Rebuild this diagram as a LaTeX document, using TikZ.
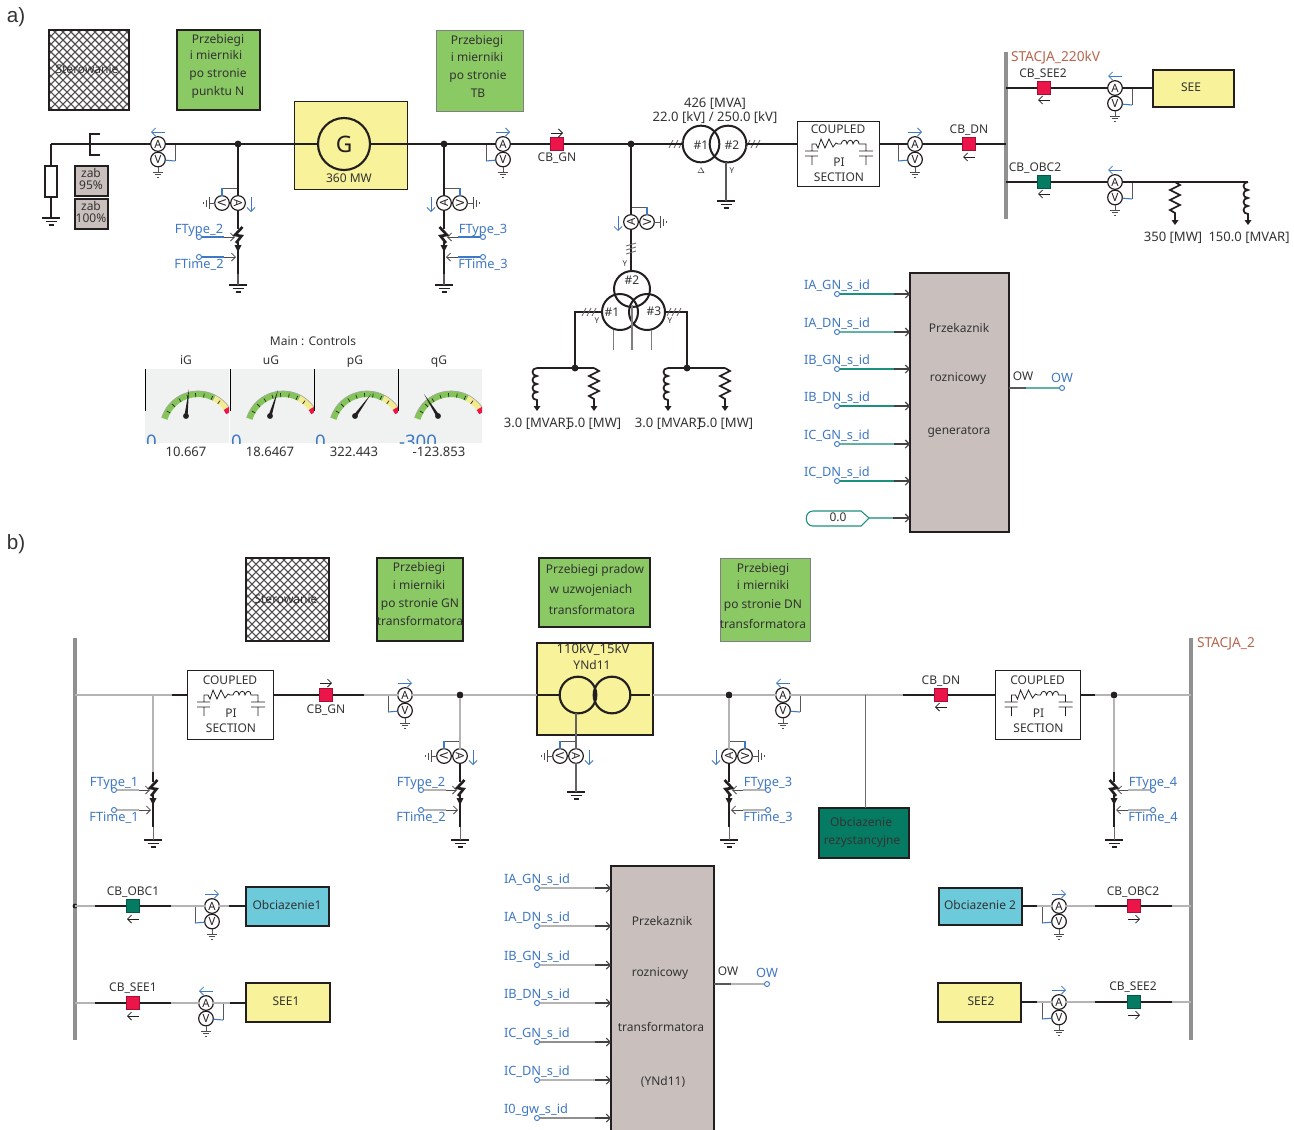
\documentclass[tikz,border=0pt]{standalone}
\usepackage{fontspec}
\setmainfont{Noto Sans}
\setsansfont{Liberation Sans}
\usetikzlibrary{arrows.meta,calc}
\definecolor{ink}{HTML}{231F20}
\definecolor{txtc}{HTML}{333333}
\definecolor{wgray}{HTML}{B4B4B4}
\definecolor{cbred}{HTML}{EC1549}
\definecolor{cbgrn}{HTML}{067B63}
\definecolor{yel}{HTML}{F8F29B}
\definecolor{grnbox}{HTML}{8AC963}
\definecolor{relayc}{HTML}{C9C0BD}
\definecolor{cyanb}{HTML}{6CCADB}
\definecolor{blu}{HTML}{3F78C4}
\definecolor{brownt}{HTML}{B8664F}
\definecolor{tealc}{HTML}{1E9080}
\definecolor{panelc}{HTML}{F0F2F2}
\definecolor{gaugeg}{HTML}{84C558}
\definecolor{gaugey}{HTML}{F3EC8E}
\newcounter{lbl}
\tikzset{
  txt/.style={font=\fontsize{9}{10}\selectfont,text=txtc,inner sep=0pt,outer sep=0pt,text height=6.75pt,text depth=2.25pt,yshift=-.7pt},
  wtxt/.style={font=\fontsize{9.8}{10}\selectfont},
  btxt/.style={text=blu,font=\fontsize{9.6}{10}\selectfont},
  stxt/.style={text=brownt,anchor=west,font=\fontsize{10.3}{11}\selectfont},
  wire/.style={draw=ink,line width=1.5pt},
  gw/.style={draw=wgray,line width=1pt},
  thinw/.style={draw=ink!75,line width=.7pt},
  mtr/.style={circle,draw=ink,line width=.9pt,fill=white,minimum size=11pt,inner sep=0pt,outer sep=0pt,font=\fontsize{8.5}{9}\selectfont,text=ink},
  dot/.style={circle,fill=ink,minimum size=5.2pt,inner sep=0pt,outer sep=0pt},
  sig/.style={circle,draw=blu,line width=.7pt,fill=white,minimum size=3.8pt,inner sep=0pt,outer sep=0pt},
  barb/.style={-{Straight Barb[length=3pt,width=6pt]}},
  bbox/.style={draw=ink,line width=1.5pt,inner sep=0pt,outer sep=0pt},
  tbox/.style={draw=ink,line width=.7pt,inner sep=0pt,outer sep=0pt},
  wind/.style={circle,draw=ink,line width=1.5pt,inner sep=0pt,outer sep=0pt},
}
% text label
\newcommand\T[4][]{\stepcounter{lbl}\node[txt,#1] (t\arabic{lbl}) at (#2,#3) {#4};}
% box by corners: name, x1,y1,x2,y2, style
\newcommand\Bx[6]{\node[#6,minimum width={(#4-#2)*0.75pt},minimum height={(#5-#3)*0.75pt}] (#1) at ({(#2+#4)/2},{(#3+#5)/2}) {};}
\newcommand\GndB[3]{\coordinate (#1) at (#2,#3);
  \draw[ink,line width=.8pt] (#2-9,#3)--(#2+9,#3) (#2-5.5,#3+3.5)--(#2+5.5,#3+3.5) (#2-2.5,#3+7)--(#2+2.5,#3+7);}
\newcommand\GndS[3]{\coordinate (#1) at (#2,#3);
  \draw[ink!80,line width=.6pt] (#2-5,#3)--(#2+5,#3) (#2-3,#3+2.8)--(#2+3,#3+2.8) (#2-.7,#3+5.6)--(#2+.7,#3+5.6);}
% vertical meter pair: id,x,y,tap side,blue arrow dir
\newcommand\AVs[5]{
  \node[mtr] (#1A) at (#2,#3) {A};
  \node[mtr] (#1V) at (#2,#3+15.5) {V};
  \coordinate (#1t) at (#2+#4*17,#3);
  \coordinate (#1c) at (#2+#4*17,#3+17);
  \draw[thinw] (#1t) -- (#1c);
  \draw[blu,line width=.8pt] (#1c) -- (#1V);
  \GndS{#1g}{#2}{#3+28}
  \draw[thinw] (#1V) -- (#1g);
  \draw[blu,line width=.6pt,barb] (#2-#5*7,#3-12) -- (#2+#5*7,#3-12);
}
% horizontal meter pair: id,x,y,side of V
\newcommand\AVh[4]{
  \node[mtr,rotate=#4*90] (#1A) at (#2,#3) {A};
  \node[mtr,rotate=#4*90] (#1V) at (#2+#4*16,#3) {V};
  \coordinate (#1t) at (#2,#3-15);
  \coordinate (#1c) at (#2+#4*16,#3-15);
  \draw[thinw] (#1t) -- (#1c);
  \draw[blu,line width=.8pt] (#1c) -- (#1V);
  \coordinate (#1g) at (#2+#4*29,#3);
  \draw[thinw] (#1V) -- (#1g);
  \draw[ink!80,line width=.6pt] (#2+#4*29,#3-6)--(#2+#4*29,#3+6) (#2+#4*32,#3-3.5)--(#2+#4*32,#3+3.5) (#2+#4*35,#3-.8)--(#2+#4*35,#3+.8);
  \draw[blu,line width=.6pt,barb] (#2-#4*13,#3-6) -- (#2-#4*13,#3+9);
}
% fault: id,x,y0,side,input colour,label1,label2
\newcommand\Fault[7]{
  \coordinate (#1top) at (#2,#3-18);
  \coordinate (#1bot) at (#2,#3+37);
  \draw[ink,line width=1.6pt] (#1top) -- (#2,#3-8) (#2,#3+5) -- (#1bot);
  \draw[ink,line width=2pt] (#2-#4*4.5,#3-10)--(#2+#4*3,#3-2)--(#2-#4*3.5,#3-1)--(#2+#4*2,#3+6);
  \fill[ink] (#2-3.5,#3+8)--(#2+3.5,#3+8)--(#2,#3+15)--cycle;
  \node[sig] (#1a) at (#2+#4*39,#3) {};
  \node[sig] (#1b) at (#2+#4*39,#3+20) {};
  \coordinate (#1ae) at (#2+#4*3,#3);
  \coordinate (#1be) at (#2+#4*2,#3+20);
  \draw[#5,line width=1pt] (#1a) -- (#2+#4*14,#3);
  \draw[#5,line width=1pt] (#1b) -- (#2+#4*14,#3+20);
  \draw[ink!80,line width=.6pt,barb] (#2+#4*14,#3) -- (#1ae);
  \draw[ink!80,line width=.6pt,barb] (#2+#4*14,#3+20) -- (#1be);
  \T[btxt]{#2+#4*39}{#3-7}{#6}
  \T[btxt]{#2+#4*39}{#3+28}{#7}
}
% breaker: id,x,y,colour,dir,arrow y offset
\newcommand\CB[6]{
  \node[rectangle,fill=#4,draw=#4!70!black,line width=.7pt,minimum size=10pt,inner sep=0pt,outer sep=0pt] (#1) at (#2,#3) {};
  \draw[ink,line width=.55pt,barb] (#2-#5*6,#3+#6) -- (#2+#5*6,#3+#6);
}
\newcommand\Hash[2]{\draw[ink!70,line width=.6pt] (#1-7,#2+4)--(#1-3,#2-4) (#1-2,#2+4)--(#1+2,#2-4) (#1+3,#2+4)--(#1+7,#2-4);}
\newcommand\HashV[2]{\draw[ink!70,line width=.6pt] (#1-5,#2-5)--(#1+5,#2-8) (#1-5,#2-1)--(#1+5,#2-4) (#1-5,#2+3)--(#1+5,#2);}
% coupled pi section: name,x1,y1,x2,y2
\newcommand\Coupled[5]{
  \Bx{#1}{#2}{#3}{#4}{#5}{tbox,fill=white}
  \begin{scope}[shift={({(#2+#4)/2},{(#3+#5)/2-9.5})}]
    \T{0}{-14.5}{COUPLED}\T{1}{19}{PI}\T{1}{34}{SECTION}
    \draw[ink,line width=.6pt] (-33,7)--(-20,7) (-33,12)--(-20,12) (-26,12)--(-26,21) (-26,7)--(-26,0)--(-22,0)
      --(-20,4)--(-17,-5)--(-13,4)--(-9,-5)--(-5,3)--(-2,-1)--(0,0)--(3,0)
      .. controls (4,-5) and (9,-5) .. (9,0) .. controls (10,-5) and (15,-5) .. (15,0) .. controls (16,-5) and (21,-5) .. (21,0)
      --(28,0)--(28,7) (21,7)--(35,7) (21,12)--(35,12) (28,12)--(28,21);
  \end{scope}
}
% vertical inductor and resistor loads: name,x,y
\newcommand\Ind[3]{\coordinate (#1) at (#2,#3);
  \begin{scope}[shift={(#2,#3)}]
  \draw[ink,line width=1.3pt] (0,0) .. controls (-6,0) and (-6,8) .. (0,8) .. controls (-6,8) and (-6,16) .. (0,16) .. controls (-6,16) and (-6,24) .. (0,24) .. controls (-6,24) and (-6,32) .. (0,32) -- (0,38);
  \fill[ink] (-3.5,38)--(3.5,38)--(0,43)--cycle;
  \end{scope}}
\newcommand\Res[3]{\coordinate (#1) at (#2,#3);
  \begin{scope}[shift={(#2,#3)}]
  \draw[ink,line width=1.3pt] (0,0)--(5,3)--(-5,8)--(5,13)--(-5,18)--(5,23)--(-5,28)--(0,31)--(0,38);
  \fill[ink] (-3.5,38)--(3.5,38)--(0,43)--cycle;
  \end{scope}}
% hatched box: name,x1,y1,x2,y2
\newcommand\Hatch[5]{
  \begin{scope}
    \clip (#2,#3) rectangle (#4,#5);
    \foreach \k in {0,...,24} {
      \draw[ink!80,line width=.8pt] (#2-100+\k*8,#3) -- ++(100,100);
      \draw[ink!80,line width=.8pt] (#2+\k*8,#3) -- ++(-100,100);
    }
  \end{scope}
  \Bx{#1}{#2}{#3}{#4}{#5}{bbox}
}
% relay input: id,x,y,colour,relay,label
\newcommand\Rin[6]{
  \node[sig] (#1) at (#2,#3) {};
  \draw[#4,line width=1pt] (#1) -- ($(#1 -| #5.west)+(-16,0)$);
  \draw[ink!85,line width=.8pt,barb] ($(#1 -| #5.west)+(-16,0)$) -- (#1 -| #5.west);
  \T[btxt,anchor=west]{#2-33}{#3-8.5}{#6}
}
% gauge: panel x, pivot x, tip x, tip y, lower label
\newcommand\Gauge[5]{
  \begin{scope}
    \clip (#1,369) rectangle (#1+84,443);
    \fill[panelc] (#1,369) rectangle (#1+84,443);
    \begin{scope}[shift={(#1+53,429)},yscale=-1]
      \draw[gaugeg,line width=4.6pt] (163:35) arc[start angle=163,end angle=62,radius=35];
      \draw[gaugey,line width=4.6pt] (62:35) arc[start angle=62,end angle=36,radius=35];
      \draw[cbred,line width=4.6pt] (36:35) arc[start angle=36,end angle=28,radius=35];
      \draw[black!35,line width=.5pt] (163:38) arc[start angle=163,end angle=28,radius=38];
      \foreach \a in {150,136,122,108,94,80,66,52} \draw[ink,line width=.5pt] (\a:32) -- (\a:36);
    \end{scope}
    \T[text=blu,anchor=south west,font=\fontsize{14}{14}\selectfont]{#1+1}{451}{#5}
  \end{scope}
  \coordinate (pv#1) at (#2,416);
  \coordinate (tp#1) at (#3,#4);
  \fill[ink] ($(pv#1)!1.2pt!90:(tp#1)$) -- (tp#1) -- ($(pv#1)!1.2pt!-90:(tp#1)$) -- cycle;
  \fill[ink] (pv#1) circle (2.2pt);
  \draw[black,line width=.7pt] (#1,369) -- (#1,411);
}
\begin{document}
\begin{tikzpicture}[x=0.75pt,y=-0.75pt]
\useasboundingbox (0,0) rectangle (1294,1129);
\fill[white] (0,0) rectangle (1294,1129);
% ---- panel labels
\T[font=\fontsize{15.5}{15}\selectfont\sffamily]{16}{19}{a)}
\T[font=\fontsize{15.5}{15}\selectfont\sffamily]{16}{546}{b)}
%% ================= a)
\Hatch{aH}{49}{30}{129}{110}
\T{87}{70}{Sterowanie}
\Bx{aP1}{177}{30}{260}{110}{bbox,fill=grnbox}
\T{218}{40}{Przebiegi}\T{216}{56}{i mierniki}\T{218}{74}{po stronie}\T{218}{92}{punktu N}
\Bx{aP2}{436}{30}{523}{111}{tbox,draw=gray,fill=grnbox}
\T{477}{41}{Przebiegi}\T{477}{58}{i mierniki}\T{478}{76}{po stronie}\T{478}{94}{TB}
% neutral
\coordinate (aL) at (51,144);
\Bx{aR}{45}{166}{57}{197}{draw=ink,line width=1.3pt,fill=white,inner sep=0pt,outer sep=0pt}
\GndB{aRg}{51}{218}
\draw[wire] (aL) -- (aR) (aR) -- (aRg);
\Bx{az1}{75}{166}{108}{196}{tbox,line width=1pt,fill=relayc}
\Bx{az2}{75}{199}{108}{229}{tbox,line width=1pt,fill=relayc}
\T{91}{174}{zab}\T{91}{186}{95\%}\T{91}{207}{zab}\T{91}{219}{100\%}
\coordinate (aBr) at (90,144);
\draw[ink,line width=1.3pt] (100,134)--(90,134)--(90,155)--(100,155);
\AVs{am1}{158}{144}{1}{-1}
\node[dot] (aj1) at (238,144) {};
% generator
\Bx{aGb}{294}{101}{407}{189}{tbox,fill=yel}
\node[wind,line width=1.6pt,minimum size=39pt,font=\fontsize{17}{17}\selectfont,text=ink] (aG) at (344,144) {G};
\T{349}{179}{360 MW}
\node[dot] (aj2) at (444,144) {};
\AVs{am2}{503}{144}{-1}{1}
\CB{acb1}{557}{144}{cbred}{1}{-11}
\T{557}{158}{CB\_GN}
\node[dot] (aj3) at (631,144) {};
% step-up transformer
\node[wind,minimum size=27.5pt] (aT1) at (701,144) {};
\node[wind,minimum size=27.5pt] (aT2) at (728,144) {};
\T{701}{146}{\#1}\T{732}{146}{\#2}
\Hash{676}{144}\Hash{753}{144}
\T[font=\fontsize{6.5}{7}\selectfont]{701}{170}{$\Delta$}
\T[font=\fontsize{6}{7}\selectfont]{732}{170}{Y}
\T[wtxt]{715}{104}{426 [MVA]}\T[wtxt]{715}{118}{22.0 [kV] / 250.0 [kV]}
\GndB{aTg}{726}{201}
\draw[thinw,line width=.9pt] (aTg |- aT2.south) -- (aTg);
\Coupled{aC}{797}{121}{879}{186}
\AVs{am3}{915}{144}{-1}{1}
\CB{acb2}{969}{144}{cbred}{-1}{13}
\T{969}{130}{CB\_DN}
\coordinate (aBus1) at (1006,52);
\coordinate (aBus2) at (1006,219);
\draw[wgray!80!black,line width=2.6pt] (aBus1) -- (aBus2);
\coordinate (aBm) at (1006,144);
\T[stxt]{1011}{58}{STACJA\_220kV}
% main line a
\draw[wire] (aL) -- (am1A) (am1A) -- (aj1) (aj1) -- (aG) (aG) -- (aj2) (aj2) -- (am2A) (am2A) -- (acb1) (acb1) -- (aj3) (aj3) -- (aT1) (aT2) -- (aT2 -| aC.west) (aT2 -| aC.east) -- (am3A) (am3A) -- (acb2) (acb2) -- (aBm);
% branch 1
\AVh{ap1}{238}{203}{-1}
\Fault{af1}{238}{237}{-1}{blu}{FType\_2}{FTime\_2}
\GndB{af1g}{238}{285}
\draw[wire] (aj1) -- (ap1A) (ap1A) -- (af1top);
\draw[thinw,line width=1pt] (af1bot) -- (af1g);
% branch 2
\AVh{ap2}{444}{203}{1}
\Fault{af2}{444}{237}{1}{blu}{FType\_3}{FTime\_3}
\GndB{af2g}{444}{285}
\draw[wire] (aj2) -- (ap2A) (ap2A) -- (af2top);
\draw[thinw,line width=1pt] (af2bot) -- (af2g);
% branch 3 - auxiliary transformer
\AVh{ap3}{631}{222}{1}
\node[wind,minimum size=27pt] (aW2) at (632,289) {};
\node[wind,minimum size=27pt] (aW1) at (620,312) {};
\node[wind,minimum size=27pt] (aW3) at (647,312) {};
\T{632}{281}{\#2}\T{612}{313}{\#1}\T{654}{312}{\#3}
\draw[wire] (aj3) -- (ap3A) (ap3A) -- (ap3A |- aW2.north);
\HashV{631}{251}
\T[font=\fontsize{6}{7}\selectfont]{625}{263}{Y}
\T[font=\fontsize{6}{7}\selectfont]{597}{320}{Y}
\T[font=\fontsize{6}{7}\selectfont]{670}{320}{Y}
\coordinate (aLb) at (613,350);\coordinate (aMb) at (632,350);\coordinate (aRb) at (651,350);
\draw[wgray!70!black,line width=.6pt] (613,330) -- (aLb) (651,330) -- (aRb);
\draw[wgray!70!black,line width=1.1pt] (632,305) -- (aMb);
\node[dot] (aj4) at (575,368) {};
\node[dot] (aj5) at (687,368) {};
\draw[wire] (aW1) -| (aj4);
\draw[wire] (aW3) -| (aj5);
\Hash{589}{312}\Hash{674}{312}
\Ind{al1}{537}{368}\Res{al2}{594}{368}\Ind{al3}{668}{368}\Res{al4}{725}{368}
\draw[wire] (al1) -- (aj4) (aj4) -- (al2) (al3) -- (aj5) (aj5) -- (al4);
\T[wtxt]{537}{424}{3.0 [MVAR]}\T[wtxt]{594}{424}{5.0 [MW]}\T[wtxt]{668}{424}{3.0 [MVAR]}\T[wtxt]{726}{424}{5.0 [MW]}
% right rows a
\coordinate (aB1) at (1006,88);\coordinate (aB2) at (1006,182);
\CB{acb3}{1044}{88}{cbred}{-1}{12}
\T{1043}{74}{CB\_SEE2}
\AVs{am4}{1115}{88}{1}{-1}
\Bx{aSEE}{1153}{70}{1234}{107}{bbox,fill=yel}
\T{1191}{88}{SEE}
\draw[wire] (aB1) -- (acb3) (acb3) -- (am4A) (am4A) -- (am4A -| aSEE.west);
\CB{acb4}{1044}{182}{cbgrn}{-1}{12}
\T{1035}{168}{CB\_OBC2}
\AVs{am5}{1115}{182}{1}{-1}
\Res{al5}{1175}{182}\Ind{al6}{1248}{182}
\draw[wire] (aB2) -- (acb4) (acb4) -- (am5A) (am5A) -- (al5) (al5) -- (al6);
\T[wtxt]{1173}{238}{350 [MW]}\T[wtxt]{1249}{238}{150.0 [MVAR]}
% gauges
\T{313}{342}{Main : Controls}
\T{186}{361}{iG}\T{271}{361}{uG}\T{355}{361}{pG}\T{439}{361}{qG}
\Gauge{145}{186}{189}{389}{0}
\Gauge{230}{270}{278}{390}{0}
\Gauge{314}{355}{371}{394}{0}
\Gauge{398}{438}{424}{394}{-300}
\T[wtxt]{186}{453}{10.667}\T[wtxt]{270}{453}{18.6467}\T[wtxt]{354}{453}{322.443}\T[wtxt]{439}{453}{-123.853}
% relay a
\Bx{aRel}{910}{273}{1009}{532}{bbox,fill=relayc}
\T{959}{329}{Przekaznik}\T{958}{378}{roznicowy}\T{959}{431}{generatora}
\Rin{ai1}{837}{294}{tealc}{aRel}{IA\_GN\_s\_id}
\Rin{ai2}{837}{332}{tealc!70}{aRel}{IA\_DN\_s\_id}
\Rin{ai3}{837}{369}{tealc}{aRel}{IB\_GN\_s\_id}
\Rin{ai4}{837}{406}{tealc}{aRel}{IB\_DN\_s\_id}
\Rin{ai5}{837}{444}{tealc!70}{aRel}{IC\_GN\_s\_id}
\Rin{ai6}{837}{481}{tealc}{aRel}{IC\_DN\_s\_id}
\T{838}{518}{0.0}
\coordinate (aCs) at (869,518);
\draw[tealc,line width=.8pt] (aCs) -- (861,511) -- (813,511) .. controls (804,511) and (804,526) .. (813,526) -- (861,526) -- cycle;
\draw[tealc!70,line width=1pt] (aCs) -- (893,518);
\draw[ink!85,line width=.8pt,barb] (893,518) -- (aCs -| aRel.west);
\node[sig] (aOut) at (1062,388) {};
\coordinate (aOs) at (1026,388);
\draw[ink!75,line width=1pt] (aRel.east |- aOs) -- (aOs);
\draw[tealc!70,line width=1pt] (aOs) -- (aOut);
\T{1023}{377}{OW}\T[btxt]{1062}{379}{OW}
%% ================= b)
\Hatch{bH}{246}{558}{329}{641}
\T{286}{600}{Sterowanie}
\Bx{bP1}{377}{558}{463}{641}{bbox,fill=grnbox}
\T{419}{568}{Przebiegi}\T{419}{586}{i mierniki}\T{420}{604}{po stronie GN}\T{420}{622}{transformatora}
\Bx{bP2}{539}{558}{650}{627}{bbox,line width=1pt,fill=grnbox}
\T{595}{570}{Przebiegi pradow}\T{591}{590}{w uzwojeniach}\T{592}{611}{transformatora}
\Bx{bP3}{720}{558}{810}{641}{tbox,draw=gray,fill=grnbox}
\T{763}{569}{Przebiegi}\T{763}{586}{i mierniki}\T{763}{605}{po stronie DN}\T{763}{625}{transformatora}
% buses
\coordinate (bB1a) at (75,638);\coordinate (bB1b) at (75,1040);
\coordinate (bB2a) at (1191,638);\coordinate (bB2b) at (1191,1040);
\draw[wgray!80!black,line width=2.6pt] (bB1a) -- (bB1b) (bB2a) -- (bB2b);
\T[stxt]{1197}{644}{STACJA\_2}
\coordinate (bLm) at (75,695);\coordinate (bRm) at (1191,695);
% main line b
\coordinate (bj0) at (153,695);
\Coupled{bC1}{187}{670}{273}{739}
\CB{bcb1}{326}{695}{cbred}{1}{-12}
\T{326}{710}{CB\_GN}
\AVs{bm1}{405}{695}{-1}{1}
\node[dot] (bj1) at (460,695) {};
\Bx{bTb}{537}{643}{653}{735}{bbox,fill=yel}
\T[wtxt]{593}{650}{110kV\_15kV}\T{592}{666}{YNd11}
\node[wind,line width=1.6pt,minimum size=27.5pt] (bT1) at (578,695) {};
\node[wind,line width=1.6pt,minimum size=27.5pt] (bT2) at (612,695) {};
\node[dot] (bj2) at (729,695) {};
\AVs{bm2}{783}{695}{1}{-1}
\coordinate (bj3) at (865,695);
\CB{bcb2}{941}{695}{cbred}{-1}{12}
\T{941}{681}{CB\_DN}
\Coupled{bC2}{995}{670}{1080}{739}
\node[dot] (bj4) at (1114,695) {};
\draw[gw] (bLm) -- (bj0) (bj0) -- (bj0 -| bC1.west) (bcb1) -- (bm1A) (bm1A) -- (bj1) (bj1) -- (bj1 -| bTb.west) (bj2 -| bTb.east) -- (bj2) (bj2) -- (bm2A) (bm2A) -- (bj3) (bj3) -- (bcb2) (bj4 -| bC2.east) -- (bj4) (bj4) -- (bRm);
\draw[wire] (172,695) -- (bj0 -| bC1.west) (bcb1 -| bC1.east) -- (bcb1) (bcb1) -- (364,695) (bT1) -- (537,695) (bT2) -- (650,695) (903,695) -- (bcb2) (bcb2) -- (bcb2 -| bC2.west) (bj4 -| bC2.east) -- (1095,695);
% faults b
\Fault{bf1}{153}{790}{-1}{wgray}{FType\_1}{FTime\_1}
\GndB{bf1g}{153}{840}
\draw[gw] (bj0) -- (bf1top);
\draw[thinw,wgray!60!black] (bf1bot) -- (bf1g);
\AVh{bp2}{460}{756}{-1}
\Fault{bf2}{460}{790}{-1}{wgray}{FType\_2}{FTime\_2}
\GndB{bf2g}{460}{840}
\draw[gw] (bj1) -- (bp2A);
\draw[wire] (bp2A) -- (bf2top);
\draw[thinw,wgray!60!black] (bf2bot) -- (bf2g);
\AVh{bp3}{576}{756}{-1}
\GndB{btg}{576}{792}
\draw[thinw,line width=1pt,ink!70] (bp3A |- bT1.south) -- (bp3A) (bp3A) -- (btg);
\AVh{bp4}{729}{756}{1}
\Fault{bf3}{729}{790}{1}{wgray}{FType\_3}{FTime\_3}
\GndB{bf3g}{729}{840}
\draw[gw] (bj2) -- (bp4A);
\draw[wire] (bp4A) -- (bf3top);
\draw[thinw,wgray!60!black] (bf3bot) -- (bf3g);
\Fault{bf4}{1114}{790}{1}{wgray}{FType\_4}{FTime\_4}
\GndB{bf4g}{1114}{840}
\draw[gw] (bj4) -- (bf4top);
\draw[thinw,wgray!60!black] (bf4bot) -- (bf4g);
% resistive load
\Bx{bOR}{819}{808}{909}{858}{bbox,fill=cbgrn}
\T{861}{823}{Obciazenie}\T{862}{841}{rezystancyjne}
\draw[wgray!60!black,line width=.7pt] (bj3) -- (bj3 |- bOR.north);
% lower rows
\coordinate (bB1) at (75,906);\coordinate (bB3) at (75,1003);
\coordinate (bB2) at (1191,906);\coordinate (bB4) at (1191,1002);
\fill[ink] (bB1) circle (1.8pt);
\CB{bcb3}{133}{906}{cbgrn}{-1}{13}
\T{133}{892}{CB\_OBC1}
\AVs{bm3}{212}{906}{-1}{1}
\Bx{bO1}{246}{887}{329}{926}{bbox,fill=cyanb}
\T{287}{906}{Obciazenie1}
\draw[gw] (bB1) -- (bcb3) (bcb3) -- (bm3A) (bm3A) -- (bm3A -| bO1.west);
\draw[wire] (95,906) -- (bcb3) (bcb3) -- (171,906) (229,906) -- (bm3A -| bO1.west);
\CB{bcb4}{133}{1003}{cbred}{-1}{13}
\T{133}{988}{CB\_SEE1}
\AVs{bm4}{206}{1003}{1}{-1}
\Bx{bS1}{246}{983}{330}{1022}{bbox,fill=yel}
\T{286}{1002}{SEE1}
\draw[gw] (bB3) -- (bcb4) (bcb4) -- (bm4A) (bm4A) -- (bm4A -| bS1.west);
\draw[wire] (95,1003) -- (bcb4) (bcb4) -- (171,1003) (230,1003) -- (bm4A -| bS1.west);
\Bx{bO2}{939}{888}{1022}{925}{bbox,fill=cyanb}
\T{980}{906}{Obciazenie 2}
\AVs{bm5}{1059}{906}{-1}{1}
\CB{bcb5}{1134}{906}{cbred}{1}{13}
\T{1133}{892}{CB\_OBC2}
\draw[gw] (bm5A -| bO2.east) -- (bm5A) (bm5A) -- (bcb5) (bcb5) -- (bB2);
\draw[wire] (bm5A -| bO2.east) -- (1037,906) (1095,906) -- (bcb5) (bcb5) -- (1172,906);
\Bx{bS2}{938}{983}{1021}{1022}{bbox,fill=yel}
\T{981}{1002}{SEE2}
\AVs{bm6}{1059}{1002}{-1}{1}
\CB{bcb6}{1134}{1002}{cbgrn}{1}{13}
\T{1133}{987}{CB\_SEE2}
\draw[gw] (bm6A -| bS2.east) -- (bm6A) (bm6A) -- (bcb6) (bcb6) -- (bB4);
\draw[wire] (bm6A -| bS2.east) -- (1037,1002) (1095,1002) -- (bcb6) (bcb6) -- (1172,1002);
% relay b
\Bx{bRel}{611}{866}{714}{1140}{bbox,fill=relayc}
\T{662}{922}{Przekaznik}\T{660}{973}{roznicowy}\T{661}{1028}{transformatora}\T{663}{1082}{(YNd11)}
\Rin{bi1}{537}{888}{wgray}{bRel}{IA\_GN\_s\_id}
\Rin{bi2}{537}{926}{wgray}{bRel}{IA\_DN\_s\_id}
\Rin{bi3}{537}{965}{wgray}{bRel}{IB\_GN\_s\_id}
\Rin{bi4}{537}{1003}{wgray}{bRel}{IB\_DN\_s\_id}
\Rin{bi5}{537}{1042}{wgray!80!black}{bRel}{IC\_GN\_s\_id}
\Rin{bi6}{537}{1080}{wgray}{bRel}{IC\_DN\_s\_id}
\Rin{bi7}{537}{1118}{wgray!80!black}{bRel}{I0\_gw\_s\_id}
\node[sig] (bOut) at (767,984) {};
\coordinate (bOs) at (731,984);
\draw[ink!75,line width=1pt] (bRel.east |- bOs) -- (bOs);
\draw[wgray,line width=1pt] (bOs) -- (bOut);
\T{728}{972}{OW}\T[btxt]{767}{974}{OW}
\end{tikzpicture}
\end{document}
